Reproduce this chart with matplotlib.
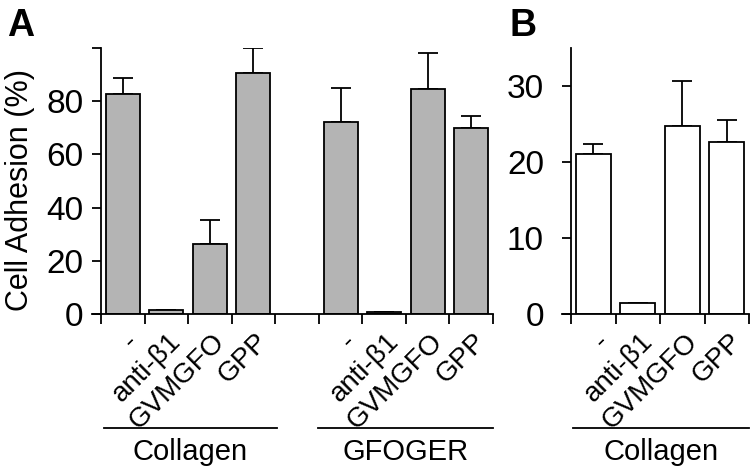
import matplotlib
matplotlib.use("Agg")
import matplotlib.pyplot as plt
import matplotlib.transforms as mtransforms

plt.rcParams['font.family'] = ['Liberation Sans', 'DejaVu Sans']

# Panel A: cell adhesion on collagen and GFOGER
labels = ['-', 'anti-β1', 'GVMGFO', 'GPP']
coll_a = [82.6, 1.5, 26.4, 90.6]
coll_a_err = [6.1, 0, 9.1, 9.3]
gfoger_a = [72.3, 0.9, 84.5, 70.1]
gfoger_a_err = [12.5, 0, 13.5, 4.2]

# Panel B: collagen only
coll_b = [21.1, 1.5, 24.8, 22.6]
coll_b_err = [1.3, 0, 5.9, 2.9]

fig = plt.figure(figsize=(7.56, 4.74), dpi=100)
axA = fig.add_axes([101 / 756, 160 / 474, 392 / 756, 266 / 474])
axB = fig.add_axes([571 / 756, 160 / 474, 178 / 756, 266 / 474])


def style_axis(ax, n_slots, ymax, yticks, yticklabels, ypad):
    for s in ['top', 'right']:
        ax.spines[s].set_visible(False)
    ax.spines['left'].set_linewidth(1.3)
    ax.spines['bottom'].set_linewidth(1.3)
    ax.set_xlim(-0.5, n_slots - 0.5)
    ax.set_ylim(0, ymax)
    ax.spines['bottom'].set_bounds(-0.7, n_slots - 0.5)
    ax.set_yticks(yticks)
    ax.set_yticklabels(yticklabels, fontsize=24)
    ax.tick_params(axis='y', direction='out', length=6.5, width=1.3, pad=ypad)
    ax.set_xticks([i - 0.5 for i in range(n_slots + 1)])
    ax.set_xticklabels([])
    ax.tick_params(axis='x', direction='out', length=7, width=1.3)


def draw_bars(ax, pos, vals, errs, color):
    ax.bar(pos, vals, width=0.78, color=color, edgecolor='black', linewidth=1.3, zorder=2)
    ax.errorbar(pos, vals, yerr=[[0] * len(errs), errs], fmt='none', ecolor='black',
                elinewidth=1.3, capsize=7, capthick=1.3, zorder=1)


def draw_labels(ax, pos):
    off = mtransforms.ScaledTranslation(8 / 72, -17 / 72, fig.dpi_scale_trans)
    for p, lab in zip(pos, labels):
        ax.text(p, 0, lab, rotation=45, ha='right', va='center', rotation_mode='anchor',
                fontsize=20, transform=ax.transData + off, clip_on=False)


def group(ax, x0, x1, text):
    tr = mtransforms.blended_transform_factory(ax.transData, ax.transAxes)
    ax.plot([x0, x1], [-0.4286, -0.4286], color='black', lw=1.3, transform=tr, clip_on=False)
    ax.text((x0 + x1) / 2, -0.55, text, ha='center', va='baseline', fontsize=21,
            transform=tr)


# panel A
posA1 = [0, 1, 2, 3]
posA2 = [5, 6, 7, 8]
style_axis(axA, 9, 100, [0, 20, 40, 60, 80, 100], ['0', '20', '40', '60', '80', ''], 6)
draw_bars(axA, posA1, coll_a, coll_a_err, '#b4b4b4')
draw_bars(axA, posA2, gfoger_a, gfoger_a_err, '#b4b4b4')
draw_labels(axA, posA1)
draw_labels(axA, posA2)
group(axA, -0.43, 3.54, 'Collagen')
group(axA, 4.48, 8.51, 'GFOGER')
axA.set_ylabel('Cell Adhesion (%)', fontsize=22)
axA.yaxis.set_label_coords(-0.168, 0.466)

# panel B
posB = [0, 1, 2, 3]
style_axis(axB, 4, 35, [0, 10, 20, 30], ['0', '10', '20', '30'], 13)
draw_bars(axB, posB, coll_b, coll_b_err, 'white')
draw_labels(axB, posB)
group(axB, -0.45, 3.5, 'Collagen')

fig.text(7 / 756, 1 - 36 / 474, 'A', fontsize=27, fontweight='bold')
fig.text(509 / 756, 1 - 36 / 474, 'B', fontsize=27, fontweight='bold')

fig.savefig('out.png', dpi=100)
